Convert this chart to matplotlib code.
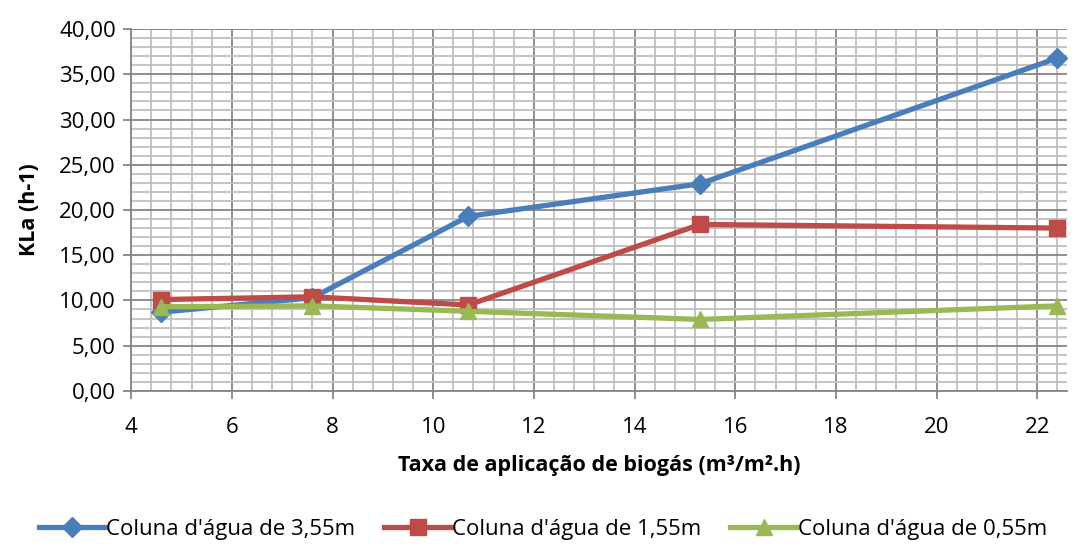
import matplotlib
matplotlib.use("Agg")
import matplotlib.pyplot as plt
from matplotlib.ticker import MultipleLocator, FuncFormatter

x = [4.6, 7.6, 10.7, 15.3, 22.4]
coluna_355 = [8.7, 10.3, 19.3, 22.9, 36.8]
coluna_155 = [10.1, 10.4, 9.5, 18.4, 18.0]
coluna_055 = [9.3, 9.4, 8.8, 7.9, 9.4]
labels = ["Coluna d'água de 3,55m", "Coluna d'água de 1,55m", "Coluna d'água de 0,55m"]

plt.rcParams['font.family'] = ['Open Sans', 'DejaVu Sans']

fig = plt.figure(figsize=(10.75, 5.49), dpi=100)
ax = fig.add_axes([0.122, 0.288, 0.871, 0.659])

ax.plot(x, coluna_355, color="#4A7EBB", lw=3.8, marker="D", ms=10, label=labels[0], zorder=3)
ax.plot(x, coluna_155, color="#BE4B48", lw=3.8, marker="s", ms=12, label=labels[1], zorder=4)
ax.plot(x, coluna_055, color="#98B954", lw=3.8, marker="^", ms=12, label=labels[2], zorder=5)

ax.set_xlim(4, 22.6)
ax.set_ylim(0, 40)
ax.xaxis.set_major_locator(MultipleLocator(2))
ax.xaxis.set_minor_locator(MultipleLocator(0.4))
ax.yaxis.set_major_locator(MultipleLocator(5))
ax.yaxis.set_minor_locator(MultipleLocator(1))
ax.yaxis.set_major_formatter(FuncFormatter(lambda v, p: ("%.2f" % v).replace(".", ",")))

ax.grid(which="major", color="#868686", lw=1.3)
ax.grid(which="minor", color="#BFBFBF", lw=1.3)
ax.set_axisbelow(True)
for s in ["top", "right"]:
    ax.spines[s].set_visible(False)
for s in ["left", "bottom"]:
    ax.spines[s].set_color("#868686")
    ax.spines[s].set_linewidth(1.3)
ax.tick_params(which="major", length=6, color="#868686", width=1.3, labelsize=16)
ax.tick_params(axis="x", pad=13)
ax.tick_params(axis="y", pad=5)
ax.tick_params(which="minor", length=0)

ax.set_xlabel("Taxa de aplicação de biogás (m³/m².h)", fontsize=15.5, fontweight="bold", labelpad=12)
ax.set_ylabel("KLa (h-1)", fontsize=15.5, fontweight="bold", labelpad=14)

fig.legend(loc="lower center", bbox_to_anchor=(0.505, -0.02), ncol=3, frameon=False,
           fontsize=16, handlelength=3, columnspacing=1.3, handletextpad=0.05)

fig.savefig("out.png", dpi=100)
